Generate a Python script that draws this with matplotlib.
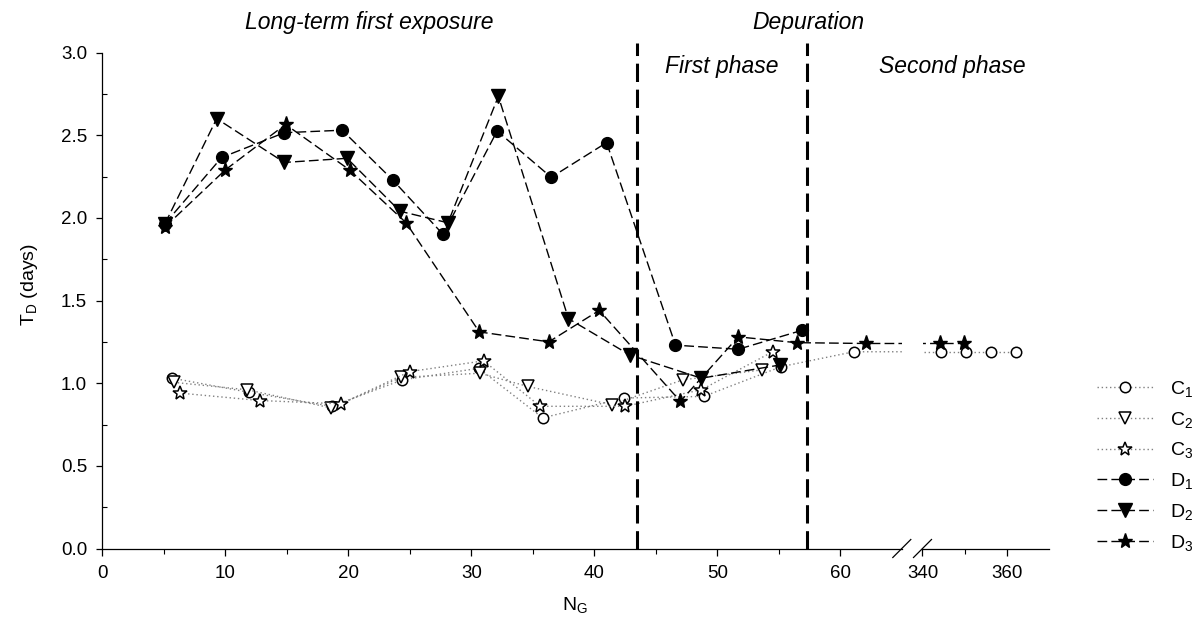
import numpy as np
import matplotlib
matplotlib.use('Agg')
import matplotlib.pyplot as plt
from matplotlib.ticker import FixedLocator, FormatStrFormatter

plt.rcParams['font.family'] = ['Liberation Sans', 'DejaVu Sans']
plt.rcParams['mathtext.fontset'] = 'custom'
plt.rcParams['mathtext.rm'] = 'Liberation Sans'
plt.rcParams['mathtext.it'] = 'Liberation Sans:italic'

# controls
c1_x = [5.7, 11.9, 18.65, 24.4, 30.6, 35.8, 42.4, 48.9, 55.2, 61.1, 344.4, 350.3, 356.3, 362.2]
c1_y = [1.03, 0.945, 0.86, 1.02, 1.09, 0.79, 0.91, 0.92, 1.10, 1.19, 1.19, 1.19, 1.19, 1.19]
c2_x = [5.8, 11.8, 18.6, 24.3, 30.7, 34.6, 41.4, 47.2, 53.6]
c2_y = [1.005, 0.96, 0.85, 1.035, 1.06, 0.98, 0.87, 1.02, 1.08]
c3_x = [6.3, 12.8, 19.4, 25.0, 31.0, 35.6, 42.5, 48.7, 54.5]
c3_y = [0.94, 0.895, 0.875, 1.07, 1.135, 0.86, 0.86, 0.96, 1.19]

# exposed
d1_x = [5.1, 9.7, 14.8, 19.5, 23.6, 27.7, 32.1, 36.5, 41.0, 46.6, 51.7, 56.9]
d1_y = [1.965, 2.365, 2.515, 2.53, 2.23, 1.90, 2.525, 2.245, 2.455, 1.23, 1.205, 1.32]
d2_x = [5.1, 9.3, 14.8, 19.9, 24.2, 28.1, 32.2, 37.9, 42.9, 48.7, 55.1]
d2_y = [1.965, 2.60, 2.335, 2.36, 2.04, 1.97, 2.735, 1.39, 1.17, 1.03, 1.11]
d3_x = [5.1, 10.0, 14.9, 20.1, 24.7, 30.65, 36.3, 40.4, 47.0, 51.7, 56.45, 62.1, 344.2, 349.9]
d3_y = [1.945, 2.29, 2.565, 2.29, 1.97, 1.31, 1.25, 1.44, 0.89, 1.28, 1.245, 1.24, 1.24, 1.24]

phase_bounds = [43.5, 57.3]

W, H = 1203, 621
fig = plt.figure(figsize=(W / 100, H / 100), dpi=100)


def px_box(x0, x1, ytop, ybot):
    return [x0 / W, 1 - ybot / H, (x1 - x0) / W, (ybot - ytop) / H]


ax1 = fig.add_axes(px_box(102.3, 901.8, 52.5, 548.5))
ax2 = fig.add_axes(px_box(922.5, 1048.8, 52.5, 548.5))

c_style = dict(color='#808080', linestyle=(0, (1, 2)), linewidth=1.0,
               markerfacecolor='white', markeredgecolor='black', markeredgewidth=1.1)
d_style = dict(color='black', linestyle=(0, (7, 3)), linewidth=1.0,
               markerfacecolor='black', markeredgecolor='black')

series = [
    (c1_x, c1_y, 'o', 7.5, c_style, r'C$_1$'),
    (c2_x, c2_y, 'v', 8.5, c_style, r'C$_2$'),
    (c3_x, c3_y, '*', 10, c_style, r'C$_3$'),
    (d1_x, d1_y, 'o', 8.5, d_style, r'D$_1$'),
    (d2_x, d2_y, 'v', 9.5, d_style, r'D$_2$'),
    (d3_x, d3_y, '*', 11, d_style, r'D$_3$'),
]

for ax in (ax1, ax2):
    for xs, ys, m, ms, st, lab in series:
        ax.plot(xs, ys, marker=m, markersize=ms, label=lab, **st)
    ax.set_ylim(0, 3)
    ax.spines['top'].set_visible(False)
    ax.spines['right'].set_visible(False)
    ax.spines['bottom'].set_linewidth(0.9)
    ax.spines['left'].set_linewidth(0.9)
    ax.tick_params(axis='x', which='major', direction='out', length=5, width=0.9,
                   pad=7, labelsize=13.5)
    ax.tick_params(axis='x', which='minor', direction='out', length=3.5, width=0.8)

ax1.set_xlim(0, 65)
ax2.set_xlim(340, 370)

ax1.set_xticks(range(0, 61, 10))
ax1.xaxis.set_minor_locator(FixedLocator([5, 15, 25, 35, 45, 55]))
ax2.set_xticks([340, 360])
ax2.xaxis.set_minor_locator(FixedLocator([350]))

ax1.set_yticks(np.arange(0, 3.01, 0.5))
ax1.yaxis.set_minor_locator(FixedLocator(np.arange(0.25, 3.0, 0.5)))
ax1.yaxis.set_major_formatter(FormatStrFormatter('%.1f'))
ax1.tick_params(axis='y', which='major', direction='out', length=4, width=0.9,
                pad=7, labelsize=13.5)
ax1.tick_params(axis='y', which='minor', direction='in', length=3.5, width=0.8)

ax2.spines['left'].set_visible(False)
ax2.tick_params(axis='y', which='both', left=False, labelleft=False)

# phase boundaries
for xb in phase_bounds:
    ax1.plot([xb, xb], [0, 3.06], color='black', linewidth=2.2,
             linestyle=(0, (6, 2.5)), clip_on=False, zorder=5)

# break marks
dy = 9 / 496
for ax, w in ((ax1, 799.5), (ax2, 126.3)):
    dx = 9 / w
    xe = 1 if ax is ax1 else 0
    ax.plot([xe - dx, xe + dx], [-dy, dy], transform=ax.transAxes,
            color='black', linewidth=0.9, clip_on=False)

handles, labels = ax1.get_legend_handles_labels()
fig.legend(handles, labels, loc='center left',
           bbox_to_anchor=(1097 / W, 1 - 465.8 / H), frameon=False,
           fontsize=14, handlelength=2.9, handletextpad=0.85,
           labelspacing=0.55, borderpad=0, borderaxespad=0)

fig.text(369 / W, 1 - 22 / H, 'Long-term first exposure', ha='center', va='center',
         style='italic', fontsize=16.5)
fig.text(808 / W, 1 - 22 / H, 'Depuration', ha='center', va='center',
         style='italic', fontsize=16.5)
fig.text(722 / W, 1 - 67 / H, 'First phase', ha='center', va='center',
         style='italic', fontsize=16.5)
fig.text(952 / W, 1 - 67 / H, 'Second phase', ha='center', va='center',
         style='italic', fontsize=16.5)

fig.text(575 / W, 1 - 605 / H, r'N$_\mathrm{G}$', ha='center', va='center', fontsize=14)
fig.text(30 / W, 1 - 285 / H, r'T$_\mathrm{D}$ (days)', rotation=90,
         ha='center', va='center', fontsize=14)

fig.savefig('out.png', dpi=100)
